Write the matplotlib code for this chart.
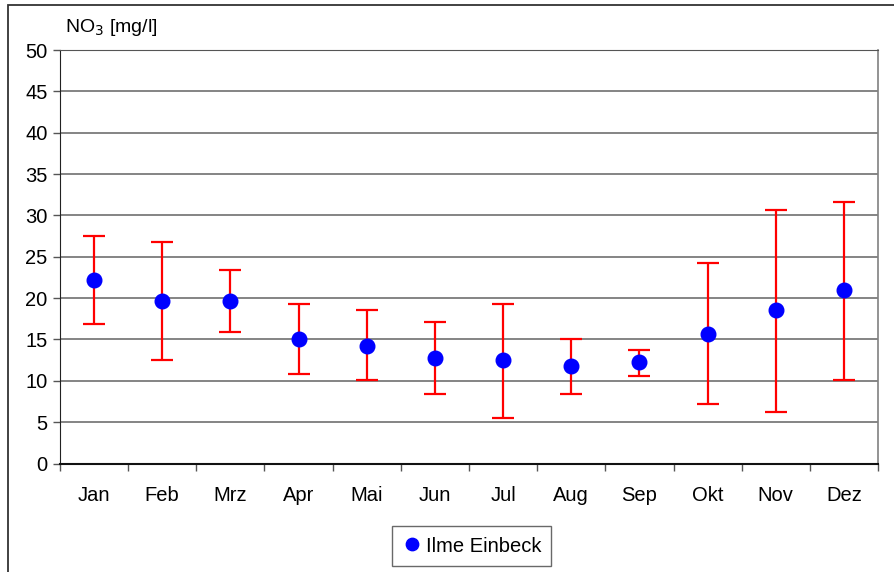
import matplotlib
matplotlib.use("Agg")
import matplotlib.pyplot as plt
from matplotlib.patches import Rectangle
from matplotlib.ticker import FixedLocator

months = ["Jan", "Feb", "Mrz", "Apr", "Mai", "Jun", "Jul", "Aug", "Sep", "Okt", "Nov", "Dez"]
mean_vals = [22.2, 19.6, 19.6, 15.0, 14.2, 12.8, 12.55, 11.8, 12.3, 15.7, 18.6, 21.0]
max_vals = [27.5, 26.8, 23.4, 19.3, 18.6, 17.1, 19.3, 15.0, 13.7, 24.2, 30.65, 31.6]
min_vals = [16.9, 12.55, 15.9, 10.8, 10.1, 8.4, 5.5, 8.45, 10.6, 7.2, 6.25, 10.1]
series_name = "Ilme Einbeck"
y_ticks = [0, 5, 10, 15, 20, 25, 30, 35, 40, 45, 50]

plt.rcParams['font.family'] = ['Liberation Sans', 'DejaVu Sans']
FS = 14.5

fig = plt.figure(figsize=(8.95, 5.72), dpi=100)
ax = fig.add_axes([60/895, (572-463.5)/572, (878-60)/895, (463.5-50)/572])

x = list(range(len(months)))
lower = [m - lo for m, lo in zip(mean_vals, min_vals)]
upper = [hi - m for m, hi in zip(mean_vals, max_vals)]

ax.errorbar(x, mean_vals, yerr=[lower, upper], fmt='none', ecolor='#ff0000',
            elinewidth=1.6, capsize=8, capthick=1.6, zorder=3)
ax.plot(x, mean_vals, 'o', color='#0000ff', markersize=10.5, zorder=4, label=series_name)

ax.set_xlim(-0.5, len(months) - 0.5)
ax.set_ylim(0, 50)
ax.set_yticks(y_ticks)
ax.set_xticks(x)
ax.set_xticklabels(months)
ax.xaxis.set_minor_locator(FixedLocator([i - 0.5 for i in range(len(months) + 1)]))
ax.tick_params(axis='x', which='major', length=0, pad=16, labelsize=FS)
ax.tick_params(axis='x', which='minor', length=5, width=1, color='#555555', direction='out')
ax.tick_params(axis='y', length=5, width=1, color='#555555', direction='out', labelsize=FS, pad=4)

ax.grid(axis='y', color='#707070', linewidth=1.2)
ax.set_axisbelow(True)
ax.spines['left'].set_color('#222222')
ax.spines['bottom'].set_color('#111111')
ax.spines['bottom'].set_linewidth(1.5)
ax.spines['top'].set_color('#555555')
ax.spines['right'].set_color('#808080')
ax.spines['right'].set_linewidth(1.2)

fig.text(65/895, 1 - 27/572, "NO$_3$ [mg/l]", fontsize=FS - 0.5, ha='left', va='center')

leg = ax.legend(loc='center', bbox_to_anchor=(471.5/895, 1 - 546/572), bbox_transform=fig.transFigure,
                fontsize=FS, frameon=True, fancybox=False, handletextpad=0.2,
                handlelength=1.0, borderpad=0.5, markerscale=0.85)
leg.get_frame().set_edgecolor('#444444')
leg.get_frame().set_linewidth(1.0)

fig.patches.append(Rectangle((8/895, -0.1), 1.2, 1 - 5/572 + 0.1, transform=fig.transFigure,
                             fill=False, edgecolor='#333333', linewidth=1.3, clip_on=False))

fig.savefig("out.png", dpi=100)
